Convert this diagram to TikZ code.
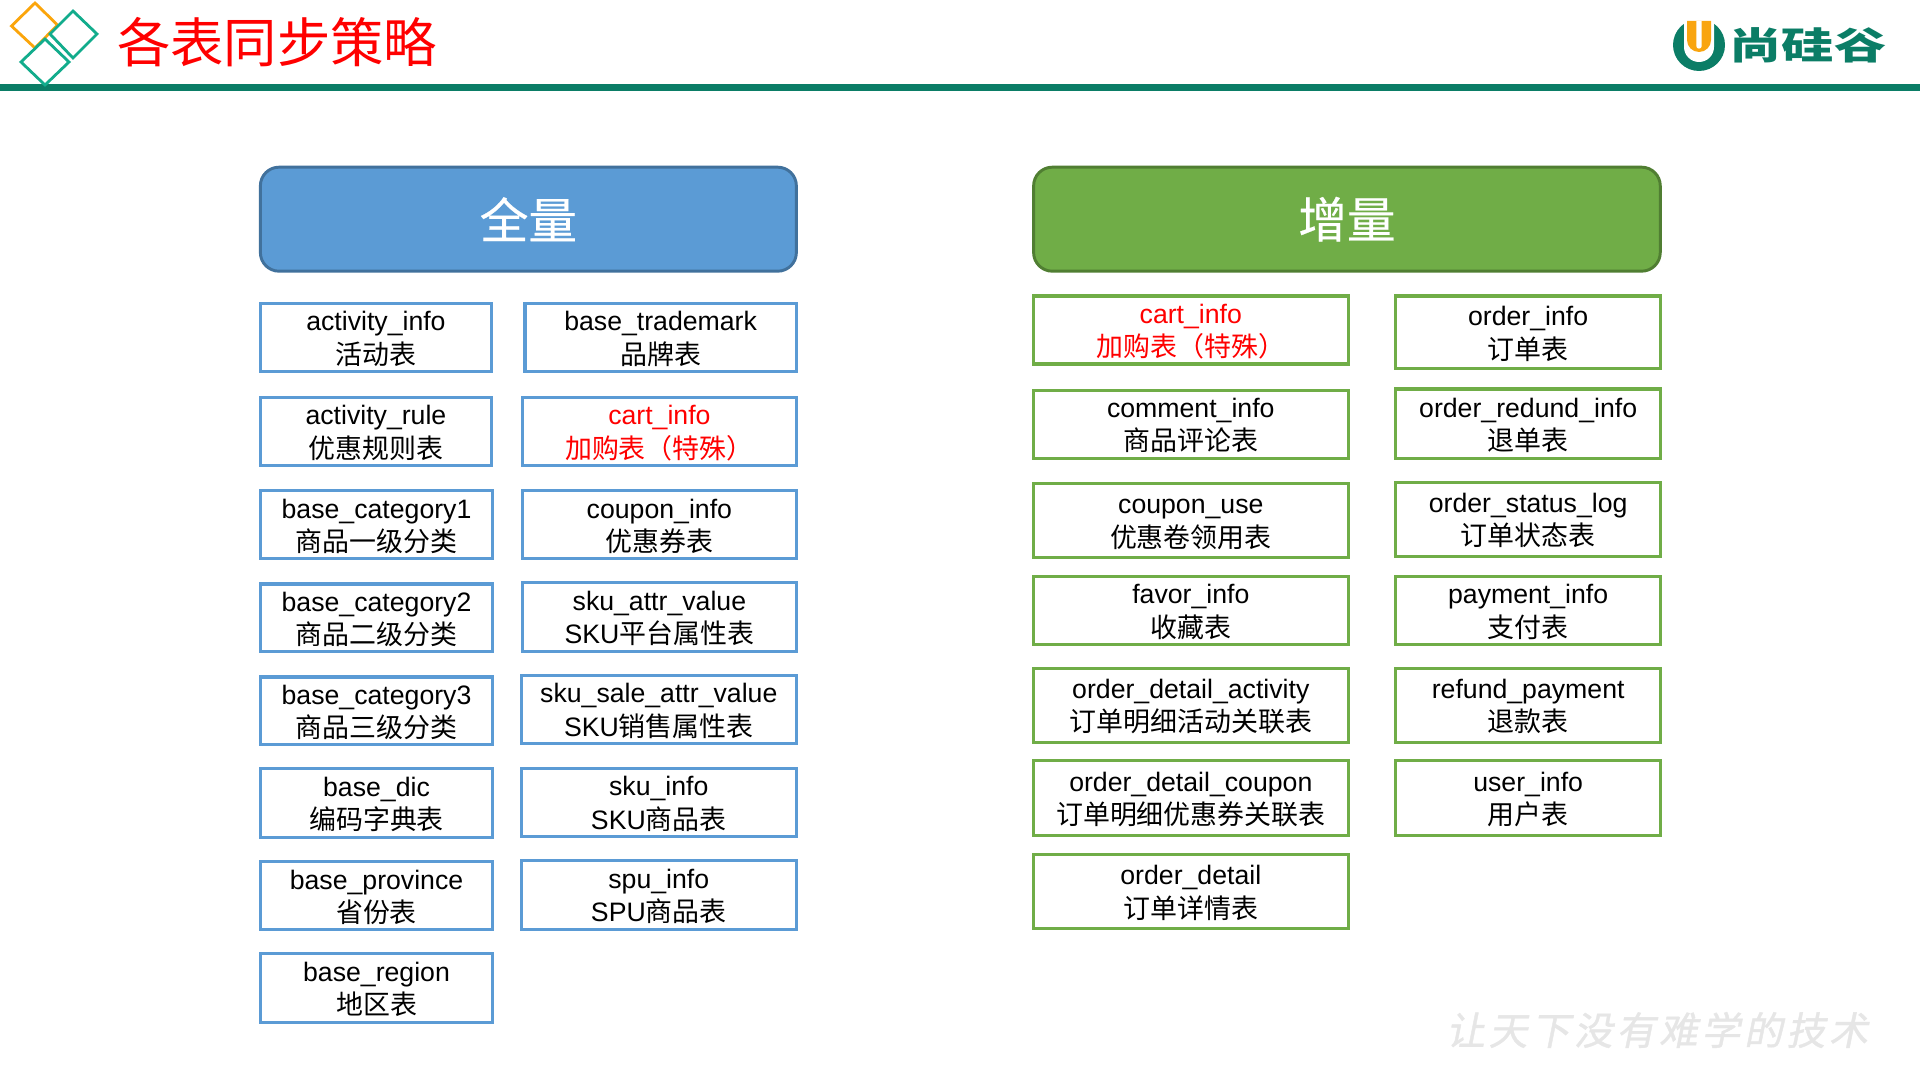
\documentclass[tikz,border=0pt]{standalone}
\usepackage{fontspec}
\setmainfont{Liberation Sans}
\newfontfamily\zhfont{Noto Sans CJK SC}
\newfontfamily\zhbox[Scale=1.01]{Noto Sans CJK SC}
\newfontfamily\zhhead[FakeBold=0.4]{Noto Sans CJK SC}
\newfontfamily\wmfont[FakeSlant=0.2,LetterSpace=10,FakeBold=1]{Noto Sans CJK SC}
\definecolor{bluefill}{HTML}{5B9BD5}
\definecolor{blueedge}{HTML}{41719C}
\definecolor{greenfill}{HTML}{70AD47}
\definecolor{greenedge}{HTML}{507E32}
\definecolor{brand}{HTML}{0B7D66}
\definecolor{brandorange}{HTML}{F9A50F}
\definecolor{diamondorange}{HTML}{FBA50B}
\definecolor{diamondgreen}{HTML}{12AC8C}
\definecolor{wmgrey}{HTML}{E6E6E6}
\tikzset{
  tblbox/.style={draw,line width=2.5pt,fill=white,inner sep=0pt,align=center,text=black,
    font=\fontsize{20}{25}\selectfont},
  tblblue/.style={tblbox,draw=bluefill},
  tblgreen/.style={tblbox,draw=greenfill},
  hdr/.style={draw,line width=2.2pt,rounded corners=14pt,inner sep=0pt,text=white,
    font=\zhhead\fontsize{36.5}{40}\selectfont},
  diamondo/.style={draw=diamondorange,line width=2.1pt,miter limit=10},
  diamondg/.style={draw=diamondgreen,line width=2.1pt,fill=white},
}
\newlength{\bw}\newlength{\bh}
% name, x0, y0, x1, y1, style, text
\newcommand{\tbl}[7]{%
  \pgfmathsetlength{\bw}{(#4-#2-1.6)*0.91837pt}%
  \pgfmathsetlength{\bh}{(#5-#3-1.6)*0.91837pt}%
  \node[#6,minimum width=\bw,minimum height=\bh] (#1) at ({(#2+#4)/2},{(#3+#5)/2}) {#7};}
\newcommand{\two}[2]{\rule{0pt}{20pt}#1\\{\zhbox #2}\rule[-5pt]{0pt}{5pt}}
\begin{document}
\begin{tikzpicture}[x=0.91837pt,y=-0.91837pt]
\useasboundingbox (0,0) rectangle (1568,882);
\fill[white] (0,0) rectangle (1568,882);

% top band, logo mark and logo
\begin{scope}[x=0.75pt,y=-0.75pt]
  \fill[brand] (0,84.5) rectangle (1920,91.5);
  \path[diamondo] (35,3) -- (57.5,25) -- (35,48) -- (11.5,26) -- cycle;
  \path[diamondg] (73,11) -- (97,34) -- (73,58) -- (50,34) -- cycle;
  \path[diamondg] (45,39) -- (69,62) -- (45,85) -- (21,62) -- cycle;
  \fill[brand] (1699,45) circle (26);
  \fill[white] (1684,0) -- (1684,47) arc[start angle=180,end angle=0,radius=15] -- (1714,0) -- cycle;
  \fill[brandorange] (1687,21) -- (1687,40) arc[start angle=180,end angle=0,radius=12] -- (1711,21) -- cycle;
  \fill[white] (1696.3,21) -- (1696.3,46) arc[start angle=180,end angle=0,radius=2.7] -- (1701.7,21) -- cycle;
  \node[inner sep=0pt,text=brand,xscale=1.4,transform shape,font=\zhfont\bfseries\fontsize{28}{30}\selectfont] (logotext) at (1808,45) {尚硅谷};
  \node[inner sep=0pt,text=red,font=\zhfont\fontsize{40}{44}\selectfont] (title) at (277,42) {各表同步策略};
  \node[inner sep=0pt,text=wmgrey,font=\wmfont\fontsize{29}{32}\selectfont] (watermark) at (1657,1030) {让天下没有难学的技术};
\end{scope}

% headers
\node[hdr,draw=blueedge,fill=bluefill,minimum width=402pt,minimum height=78pt] (full) at (431.5,179) {全量};
\node[hdr,draw=greenedge,fill=greenfill,minimum width=470pt,minimum height=78pt] (incr) at (1100,179) {增量};

% full-sync tables, column 1
\tbl{a1}{212}{247}{402}{304}{tblblue}{\two{activity\_info}{活动表}}
\tbl{a2}{212}{324}{402}{381}{tblblue}{\two{activity\_rule}{优惠规则表}}
\tbl{a3}{212}{400}{403}{457}{tblblue}{\two{base\_category1}{商品一级分类}}
\tbl{a4}{212}{476}{403}{533}{tblblue}{\two{base\_category2}{商品二级分类}}
\tbl{a5}{212}{552}{403}{609}{tblblue}{\two{base\_category3}{商品三级分类}}
\tbl{a6}{212}{627}{403}{685}{tblblue}{\two{base\_dic}{编码字典表}}
\tbl{a7}{212}{703}{403}{760}{tblblue}{\two{base\_province}{省份表}}
\tbl{a8}{212}{778}{403}{836}{tblblue}{\two{base\_region}{地区表}}
% column 2
\tbl{b1}{428}{247}{651}{304}{tblblue}{\two{base\_trademark}{品牌表}}
\tbl{b2}{426}{324}{651}{381}{tblblue,text=red}{\two{cart\_info}{加购表（特殊）}}
\tbl{b3}{426}{400}{651}{457}{tblblue}{\two{coupon\_info}{优惠券表}}
\tbl{b4}{426}{475}{651}{533}{tblblue}{\two{sku\_attr\_value}{\textnormal{SKU}平台属性表}}
\tbl{b5}{425}{551}{651}{608}{tblblue}{\two{sku\_sale\_attr\_value}{\textnormal{SKU}销售属性表}}
\tbl{b6}{425}{627}{651}{684}{tblblue}{\two{sku\_info}{\textnormal{SKU}商品表}}
\tbl{b7}{425}{702}{651}{760}{tblblue}{\two{spu\_info}{\textnormal{SPU}商品表}}

% incremental tables, column 1
\tbl{c1}{843}{241}{1102}{298}{tblgreen,text=red}{\two{cart\_info}{加购表（特殊）}}
\tbl{c2}{843}{318}{1102}{375}{tblgreen}{\two{comment\_info}{商品评论表}}
\tbl{c3}{843}{394}{1102}{456}{tblgreen}{\two{coupon\_use}{优惠卷领用表}}
\tbl{c4}{843}{470}{1102}{527}{tblgreen}{\two{favor\_info}{收藏表}}
\tbl{c5}{843}{545}{1102}{607}{tblgreen}{\two{order\_detail\_activity}{订单明细活动关联表}}
\tbl{c6}{843}{620}{1102}{683}{tblgreen}{\two{order\_detail\_coupon}{订单明细优惠券关联表}}
\tbl{c7}{843}{697}{1102}{759}{tblgreen}{\two{order\_detail}{订单详情表}}
% column 2
\tbl{d1}{1139}{241}{1357}{302}{tblgreen}{\two{order\_info}{订单表}}
\tbl{d2}{1139}{317}{1357}{375}{tblgreen}{\two{order\_redund\_info}{退单表}}
\tbl{d3}{1139}{393}{1357}{455}{tblgreen}{\two{order\_status\_log}{订单状态表}}
\tbl{d4}{1139}{470}{1357}{527}{tblgreen}{\two{payment\_info}{支付表}}
\tbl{d5}{1139}{545}{1357}{607}{tblgreen}{\two{refund\_payment}{退款表}}
\tbl{d6}{1139}{620}{1357}{683}{tblgreen}{\two{user\_info}{用户表}}
\end{tikzpicture}
\end{document}
